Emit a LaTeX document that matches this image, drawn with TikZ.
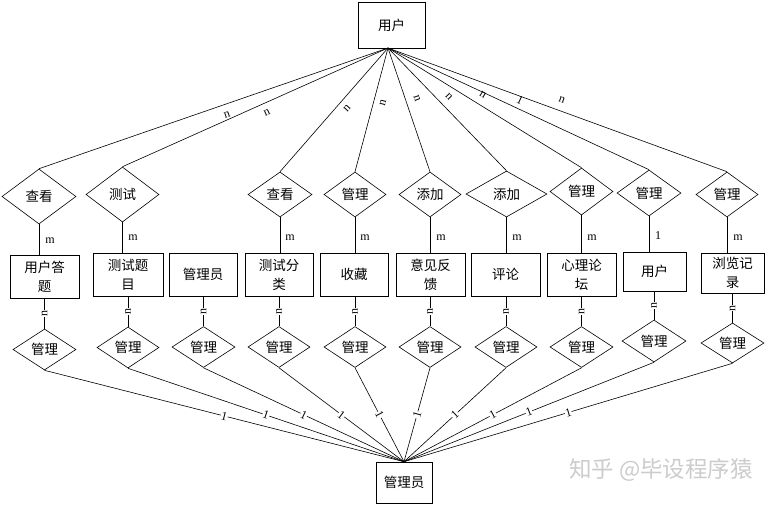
\documentclass[tikz,border=0pt]{standalone}
\usepackage{fontspec}
\setmainfont{Liberation Serif}
\newfontfamily\cjk{Noto Sans CJK SC}
\usetikzlibrary{shapes.geometric}
\begin{document}
\begin{tikzpicture}[x=1pt,y=-1pt, line width=0.6pt,
 ent/.style={draw, rectangle, inner sep=0pt, font=\cjk\fontsize{13.5}{19}\selectfont, align=center},
 rel/.style={draw, diamond, inner sep=0pt, font=\cjk\fontsize{13.5}{16}\selectfont},
 card/.style={font=\fontsize{12}{14}\selectfont, inner sep=0.4pt},
 cardw/.style={card, fill=white},
]
\fill[white] (0,0) rectangle (768,507);
\useasboundingbox (0,0) rectangle (768,507);

% user entity
\node[ent, minimum width=67pt, minimum height=46pt] (user) at (391.5,25) {用户};
\coordinate (ut) at (388,48);

% top relationships
\node[rel, minimum width=74pt, minimum height=55pt] (d1) at (39,196.5) {查看};
\node[rel, minimum width=73pt, minimum height=55pt] (d2) at (122.5,194.5) {测试};
\node[rel, minimum width=64pt, minimum height=45pt] (d3) at (280,194.5) {查看};
\node[rel, minimum width=62pt, minimum height=45pt] (d4) at (355,194.5) {管理};
\node[rel, minimum width=62pt, minimum height=45pt] (d5) at (430,194.5) {添加};
\node[rel, minimum width=81pt, minimum height=46pt] (d6) at (506.5,194) {添加};
\node[rel, minimum width=63pt, minimum height=47pt] (d7) at (581.5,191.5) {管理};
\node[rel, minimum width=64pt, minimum height=46pt] (d8) at (649,193) {管理};
\node[rel, minimum width=62pt, minimum height=45pt] (d9) at (727,194.5) {管理};

% entities row
\node[ent, minimum width=69pt, minimum height=43pt] (b1) at (44.5,276.5) {用户答\\题};
\node[ent, minimum width=70pt, minimum height=43pt] (b2) at (128,274.5) {测试题\\目};
\node[ent, minimum width=68pt, minimum height=43pt] (b3) at (203,274.5) {管理员};
\node[ent, minimum width=68pt, minimum height=43pt] (b4) at (279,274.5) {测试分\\类};
\node[ent, minimum width=68pt, minimum height=43pt] (b5) at (354,274.5) {收藏};
\node[ent, minimum width=69pt, minimum height=43pt] (b6) at (430.5,274.5) {意见反\\馈};
\node[ent, minimum width=69pt, minimum height=43pt] (b7) at (505.5,274.5) {评论};
\node[ent, minimum width=69pt, minimum height=43pt] (b8) at (581.5,274.5) {心理论\\坛};
\node[ent, minimum width=63pt, minimum height=39pt] (b9) at (654.5,271.5) {用户};
\node[ent, minimum width=63pt, minimum height=40pt] (b10) at (732.5,273) {浏览记\\录};

% bottom relationships
\node[rel, minimum width=63pt, minimum height=41pt] (e1) at (44.5,349.5) {管理};
\node[rel, minimum width=62pt, minimum height=41pt] (e2) at (128,347.5) {管理};
\node[rel, minimum width=63pt, minimum height=41pt] (e3) at (203.5,347) {管理};
\node[rel, minimum width=62pt, minimum height=41pt] (e4) at (279,347) {管理};
\node[rel, minimum width=62pt, minimum height=41pt] (e5) at (355,347) {管理};
\node[rel, minimum width=62pt, minimum height=41pt] (e6) at (430,347) {管理};
\node[rel, minimum width=62pt, minimum height=41pt] (e7) at (506,347) {管理};
\node[rel, minimum width=63pt, minimum height=41pt] (e8) at (581.5,347) {管理};
\node[rel, minimum width=64pt, minimum height=42pt] (e9) at (654,341) {管理};
\node[rel, minimum width=63pt, minimum height=40pt] (e10) at (732.5,343) {管理};

% admin entity
\node[ent, minimum width=56pt, minimum height=41pt] (adm) at (404,482.5) {管理员};

% user to top relationships
\foreach \d in {d1,d2,d3,d4,d5,d6,d7,d8,d9}{
  \draw (ut) -- (\d.north);
}
% top relationships to entities
\draw (d1.south) -- (d1.south |- b1.north);
\draw (d2.south) -- (d2.south |- b2.north);
\draw (d3.south) -- (d3.south |- b4.north);
\draw (d4.south) -- (d4.south |- b5.north);
\draw (d5.south) -- (d5.south |- b6.north);
\draw (d6.south) -- (d6.south |- b7.north);
\draw (d7.south) -- (d7.south |- b8.north);
\draw (d8.south) -- (d8.south |- b9.north);
\draw (d9.south) -- (d9.south |- b10.north);

% entities to bottom relationships
\foreach \b/\e in {b1/e1,b2/e2,b3/e3,b4/e4,b5/e5,b6/e6,b7/e7,b8/e8,b9/e9,b10/e10}{
  \draw (\e.north |- \b.south) -- node[cardw, midway, rotate=90]{n} (\e.north);
}
% bottom relationships to admin
\foreach \e in {e1,e2,e3,e4,e5,e6,e7,e8,e9,e10}{
  \draw (\e.south) -- node[cardw, midway, sloped]{1} (adm.north);
}

% cardinalities on user lines
\node[card, rotate=19] (n1) at (227,115) {n};
\node[card, rotate=24] (n2) at (267,113) {n};
\node[card, rotate=48] (n3) at (347,108) {n};
\node[card, rotate=75] (n4) at (383,103) {n};
\node[card, rotate=-71] (n5) at (417,98) {n};
\node[card, rotate=-46] (n6) at (449,97) {n};
\node[card, rotate=-32] (n7) at (483,95) {n};
\node[card, rotate=-25] (n8) at (520,100) {1};
\node[card, rotate=-20] (n9) at (562,100) {n};

% cardinalities below top relationships
\node[card] (m1) at (50,241) {m};
\node[card] (m2) at (133,238) {m};
\node[card] (m3) at (290,238) {m};
\node[card] (m4) at (365,238) {m};
\node[card] (m5) at (441,238) {m};
\node[card] (m6) at (517,238) {m};
\node[card] (m7) at (592,238) {m};
\node[card] (m8) at (658,236) {1};
\node[card] (m9) at (738,238) {m};

% watermark
\node[font=\cjk\fontsize{22.5}{26}\selectfont, text=gray!40] (wm) at (661,470) {知乎 @毕设程序猿};
\end{tikzpicture}
\end{document}
